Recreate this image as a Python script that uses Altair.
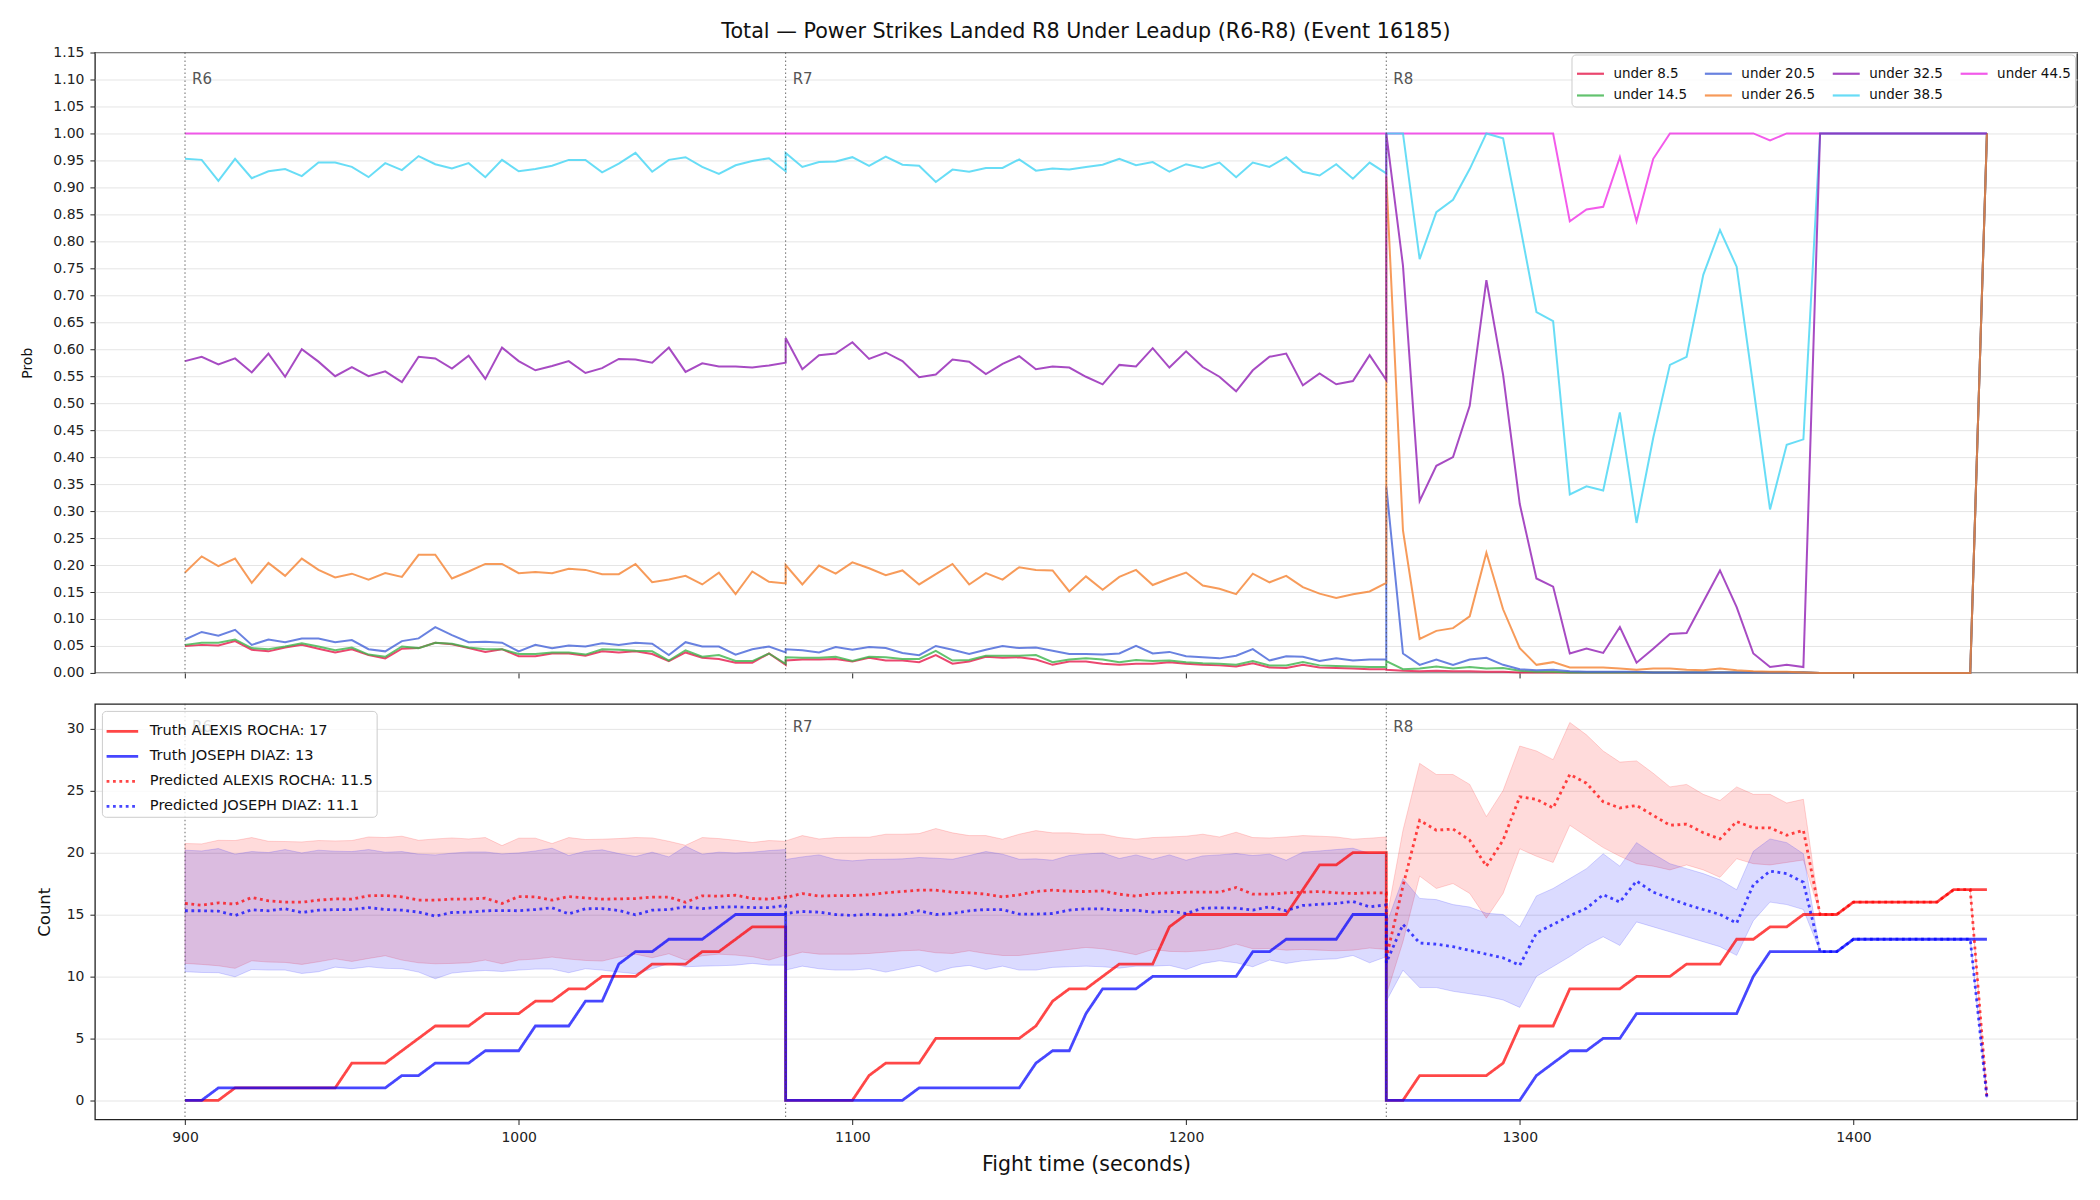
import altair as alt
import pandas as pd

FONT = "DejaVu Sans"

# ---------------------------------------------------------------------------
# Sample times (s): three rounds sampled every 5 s; a boundary second belongs
# to both the round that ends and the round that starts there.
R6_T = list(range(900, 1081, 5))
R7_T = list(range(1080, 1261, 5))
R8_T = list(range(1260, 1441, 5))
ALL_T = R6_T + R7_T + R8_T

ROUND_T = [900, 1080, 1260]
ROUND_LABELS = ["R6", "R7", "R8"]

X_TICKS = [900, 1000, 1100, 1200, 1300, 1400]
PROB_TICKS = [0.00, 0.05, 0.10, 0.15, 0.20, 0.25, 0.30, 0.35, 0.40, 0.45, 0.50, 0.55,
              0.60, 0.65, 0.70, 0.75, 0.80, 0.85, 0.90, 0.95, 1.00, 1.05, 1.10, 1.15]
COUNT_TICKS = [0, 5, 10, 15, 20, 25, 30]

# ---------------------------------------------------------------------------
# P(total power strikes landed in R8 < line)
U85_R6 = [0.050, 0.052, 0.051, 0.059, 0.043, 0.040, 0.047, 0.052, 0.045, 0.038, 0.044, 0.033, 0.027,
          0.045, 0.046, 0.056, 0.053, 0.046, 0.039, 0.044, 0.031, 0.031, 0.036, 0.036, 0.032, 0.040,
          0.038, 0.040, 0.035, 0.022, 0.038, 0.028, 0.026, 0.019, 0.019, 0.036, 0.015]
U85_R7 = [0.023, 0.025, 0.025, 0.026, 0.021, 0.028, 0.023, 0.023, 0.020, 0.033, 0.017, 0.021, 0.030,
          0.028, 0.029, 0.025, 0.015, 0.021, 0.021, 0.017, 0.015, 0.017, 0.017, 0.020, 0.017, 0.015,
          0.014, 0.012, 0.018, 0.010, 0.009, 0.015, 0.010, 0.009, 0.008, 0.007, 0.007]
U85_R8 = [0.006, 0.004, 0.003, 0.004, 0.003, 0.003, 0.002, 0.002, 0.001, 0.001, 0.001, 0.001, 0.001,
          0.001, 0.001, 0.001, 0.001, 0.001, 0.001, 0.001, 0.001, 0.001, 0.001, 0.001, 0.001, 0.001,
          0.0, 0.0, 0.0, 0.0, 0.0, 0.0, 0.0, 0.0, 0.0, 0.0, 1.0]

U145_R6 = [0.052, 0.056, 0.056, 0.062, 0.046, 0.044, 0.049, 0.055, 0.049, 0.042, 0.047, 0.034, 0.030,
           0.049, 0.046, 0.056, 0.054, 0.047, 0.044, 0.044, 0.035, 0.035, 0.038, 0.038, 0.034, 0.044,
           0.043, 0.041, 0.040, 0.023, 0.042, 0.030, 0.033, 0.022, 0.022, 0.036, 0.017]
U145_R7 = [0.029, 0.028, 0.028, 0.030, 0.022, 0.030, 0.029, 0.026, 0.026, 0.041, 0.023, 0.024, 0.032,
           0.032, 0.032, 0.033, 0.020, 0.025, 0.027, 0.025, 0.020, 0.024, 0.022, 0.023, 0.020, 0.018,
           0.017, 0.015, 0.022, 0.014, 0.014, 0.020, 0.014, 0.013, 0.012, 0.011, 0.011]
U145_R8 = [0.022, 0.007, 0.008, 0.012, 0.008, 0.011, 0.008, 0.009, 0.004, 0.002, 0.002, 0.001, 0.001,
           0.001, 0.001, 0.001, 0.001, 0.001, 0.001, 0.001, 0.001, 0.001, 0.001, 0.001, 0.001, 0.001,
           0.0, 0.0, 0.0, 0.0, 0.0, 0.0, 0.0, 0.0, 0.0, 0.0, 1.0]

U205_R6 = [0.062, 0.076, 0.069, 0.080, 0.052, 0.062, 0.057, 0.064, 0.064, 0.057, 0.061, 0.044, 0.040,
           0.059, 0.064, 0.085, 0.070, 0.057, 0.058, 0.056, 0.040, 0.052, 0.046, 0.051, 0.049, 0.055,
           0.052, 0.056, 0.054, 0.033, 0.057, 0.049, 0.049, 0.034, 0.044, 0.049, 0.038]
U205_R7 = [0.044, 0.042, 0.038, 0.048, 0.043, 0.048, 0.046, 0.037, 0.033, 0.050, 0.043, 0.035, 0.043,
           0.050, 0.046, 0.047, 0.041, 0.035, 0.035, 0.034, 0.036, 0.050, 0.036, 0.039, 0.031, 0.029,
           0.027, 0.032, 0.044, 0.023, 0.031, 0.030, 0.022, 0.027, 0.023, 0.025, 0.025]
U205_R8 = [0.346, 0.036, 0.015, 0.025, 0.015, 0.025, 0.028, 0.015, 0.007, 0.005, 0.006, 0.003, 0.002,
           0.002, 0.002, 0.002, 0.001, 0.001, 0.001, 0.001, 0.001, 0.001, 0.001, 0.001, 0.001, 0.001,
           0.0, 0.0, 0.0, 0.0, 0.0, 0.0, 0.0, 0.0, 0.0, 0.0, 1.0]

U265_R6 = [0.186, 0.216, 0.198, 0.212, 0.167, 0.204, 0.180, 0.212, 0.191, 0.177, 0.184, 0.173, 0.185,
           0.178, 0.219, 0.219, 0.175, 0.188, 0.202, 0.202, 0.185, 0.187, 0.185, 0.193, 0.191, 0.183,
           0.183, 0.202, 0.168, 0.173, 0.180, 0.164, 0.186, 0.146, 0.188, 0.169, 0.166]
U265_R7 = [0.200, 0.164, 0.199, 0.184, 0.205, 0.194, 0.181, 0.190, 0.164, 0.183, 0.202, 0.164, 0.185,
           0.173, 0.196, 0.191, 0.190, 0.151, 0.179, 0.154, 0.178, 0.191, 0.163, 0.175, 0.186, 0.162,
           0.156, 0.146, 0.184, 0.168, 0.180, 0.159, 0.147, 0.139, 0.146, 0.151, 0.167]
U265_R8 = [0.920, 0.264, 0.063, 0.078, 0.083, 0.105, 0.223, 0.118, 0.046, 0.015, 0.020, 0.010, 0.010,
           0.010, 0.008, 0.006, 0.008, 0.008, 0.006, 0.005, 0.008, 0.005, 0.003, 0.002, 0.002, 0.001,
           0.0, 0.0, 0.0, 0.0, 0.0, 0.0, 0.0, 0.0, 0.0, 0.0, 1.0]

U325_R6 = [0.578, 0.586, 0.572, 0.583, 0.557, 0.592, 0.549, 0.600, 0.577, 0.550, 0.567, 0.550, 0.559,
           0.539, 0.586, 0.583, 0.564, 0.588, 0.545, 0.603, 0.578, 0.561, 0.569, 0.578, 0.556, 0.565,
           0.582, 0.581, 0.575, 0.603, 0.558, 0.574, 0.568, 0.568, 0.566, 0.570, 0.575]
U325_R7 = [0.621, 0.563, 0.589, 0.592, 0.613, 0.582, 0.594, 0.578, 0.548, 0.553, 0.581, 0.577, 0.554,
           0.573, 0.587, 0.563, 0.568, 0.566, 0.549, 0.535, 0.571, 0.568, 0.602, 0.566, 0.596, 0.567,
           0.549, 0.522, 0.561, 0.586, 0.592, 0.533, 0.555, 0.535, 0.541, 0.589, 0.543]
U325_R8 = [1.000, 0.755, 0.319, 0.384, 0.400, 0.495, 0.728, 0.553, 0.313, 0.175, 0.160, 0.036, 0.045,
           0.037, 0.085, 0.019, 0.045, 0.072, 0.074, 0.132, 0.190, 0.122, 0.036, 0.011, 0.015, 0.011,
           1.0, 1.0, 1.0, 1.0, 1.0, 1.0, 1.0, 1.0, 1.0, 1.0, 1.0]

U385_R6 = [0.953, 0.951, 0.912, 0.953, 0.917, 0.930, 0.934, 0.921, 0.946, 0.946, 0.938, 0.919, 0.945,
           0.932, 0.958, 0.943, 0.935, 0.945, 0.919, 0.951, 0.930, 0.934, 0.940, 0.951, 0.951, 0.928,
           0.944, 0.964, 0.929, 0.951, 0.956, 0.938, 0.925, 0.941, 0.949, 0.954, 0.930]
U385_R7 = [0.964, 0.938, 0.947, 0.948, 0.956, 0.940, 0.957, 0.942, 0.940, 0.910, 0.933, 0.929, 0.936,
           0.936, 0.952, 0.931, 0.935, 0.933, 0.938, 0.942, 0.953, 0.941, 0.947, 0.929, 0.943, 0.936,
           0.946, 0.919, 0.946, 0.938, 0.956, 0.929, 0.922, 0.943, 0.916, 0.946, 0.926]
U385_R8 = [1.000, 1.000, 0.767, 0.854, 0.877, 0.934, 1.000, 0.991, 0.832, 0.669, 0.652, 0.331, 0.346,
           0.338, 0.483, 0.278, 0.436, 0.571, 0.586, 0.738, 0.821, 0.753, 0.530, 0.303, 0.423, 0.433,
           1.0, 1.0, 1.0, 1.0, 1.0, 1.0, 1.0, 1.0, 1.0, 1.0, 1.0]

U445_R6 = [1.0] * 37
U445_R7 = [1.0] * 37
U445_R8 = [1.000, 1.000, 1.000, 1.000, 1.000, 1.000, 1.000, 1.000, 1.000, 1.000, 1.000, 0.837, 0.859,
           0.864, 0.956, 0.837, 0.953, 1.000, 1.000, 1.000, 1.000, 1.000, 1.000, 0.987, 1.000, 1.000,
           1.0, 1.0, 1.0, 1.0, 1.0, 1.0, 1.0, 1.0, 1.0, 1.0, 1.0]

# ---------------------------------------------------------------------------
# Cumulative power strikes: truth and model prediction with its interval
TRUTH_A_R6 = [0, 0, 0, 1, 1, 1, 1, 1, 1, 1, 3, 3, 3, 4, 5, 6, 6, 6, 7, 7, 7, 8, 8, 9, 9, 10, 10, 10,
              11, 11, 11, 12, 12, 13, 14, 14, 14]
TRUTH_A_R7 = [0, 0, 0, 0, 0, 2, 3, 3, 3, 5, 5, 5, 5, 5, 5, 6, 8, 9, 9, 10, 11, 11, 11, 14, 15, 15, 15,
              15, 15, 15, 15, 17, 19, 19, 20, 20, 20]
TRUTH_A_R8 = [0, 0, 2, 2, 2, 2, 2, 3, 6, 6, 6, 9, 9, 9, 9, 10, 10, 10, 11, 11, 11, 13, 13, 14, 14, 15,
              15, 15, 16, 16, 16, 16, 16, 16, 17, 17, 17]

TRUTH_J_R6 = [0, 0, 1, 1, 1, 1, 1, 1, 1, 1, 1, 1, 1, 2, 2, 3, 3, 3, 4, 4, 4, 6, 6, 6, 8, 8, 11, 12, 12,
              13, 13, 13, 14, 15, 15, 15, 15]
TRUTH_J_R7 = [0, 0, 0, 0, 0, 0, 0, 0, 1, 1, 1, 1, 1, 1, 1, 3, 4, 4, 7, 9, 9, 9, 10, 10, 10, 10, 10, 10,
              12, 12, 13, 13, 13, 13, 15, 15, 15]
TRUTH_J_R8 = [0, 0, 0, 0, 0, 0, 0, 0, 0, 2, 3, 4, 4, 5, 5, 7, 7, 7, 7, 7, 7, 7, 10, 12, 12, 12, 12, 12,
              13, 13, 13, 13, 13, 13, 13, 13, 13]

PRED_A_R6 = [15.89, 15.75, 15.94, 15.83, 16.37, 16.10, 15.99, 15.99, 16.16, 16.26, 16.24, 16.51, 16.53,
             16.42, 16.16, 16.16, 16.24, 16.24, 16.32, 15.89, 16.45, 16.42, 16.16, 16.45, 16.34, 16.24,
             16.26, 16.29, 16.40, 16.40, 15.99, 16.51, 16.48, 16.56, 16.29, 16.24, 16.42]
PRED_A_R7 = [16.37, 16.69, 16.48, 16.53, 16.53, 16.59, 16.75, 16.85, 16.96, 16.96, 16.80, 16.75, 16.64,
             16.42, 16.59, 16.85, 16.96, 16.88, 16.85, 16.91, 16.64, 16.48, 16.69, 16.75, 16.80, 16.80,
             16.80, 17.18, 16.64, 16.64, 16.75, 16.80, 16.85, 16.75, 16.69, 16.75, 16.75]
PRED_A_R8 = [11.5, 17.3, 22.6, 21.8, 21.9, 21.0, 18.9, 21.0, 24.5, 24.3, 23.6, 26.3, 25.6, 24.1, 23.6,
             23.8, 23.0, 22.2, 22.3, 21.6, 21.1, 22.5, 22.0, 22.0, 21.4, 21.8, 15, 15, 16, 16, 16, 16,
             16, 16, 17, 17, 0.25]

PRED_J_R6 = [15.30, 15.30, 15.27, 14.92, 15.38, 15.30, 15.46, 15.16, 15.35, 15.40, 15.40, 15.56, 15.40,
             15.35, 15.19, 14.87, 15.16, 15.19, 15.30, 15.32, 15.30, 15.40, 15.54, 15.05, 15.46, 15.48,
             15.32, 14.97, 15.35, 15.40, 15.62, 15.48, 15.59, 15.62, 15.56, 15.56, 15.73]
PRED_J_R7 = [15.08, 15.24, 15.19, 15.00, 14.92, 15.03, 14.95, 15.00, 15.30, 15.00, 15.08, 15.30, 15.40,
             15.40, 15.03, 15.03, 15.08, 15.35, 15.46, 15.46, 15.32, 15.35, 15.19, 15.27, 15.08, 15.51,
             15.54, 15.51, 15.35, 15.62, 15.30, 15.73, 15.83, 15.89, 16.05, 15.62, 15.78]
PRED_J_R8 = [11.1, 14.2, 12.7, 12.6, 12.4, 12.1, 11.8, 11.5, 10.9, 13.5, 14.2, 14.9, 15.5, 16.6, 16.0,
             17.7, 16.8, 16.3, 15.8, 15.4, 15.0, 14.3, 17.4, 18.5, 18.3, 17.6, 12, 12, 13, 13, 13, 13,
             13, 13, 13, 13, 0.2]

HI_A_R6 = [20.73, 20.70, 20.99, 20.97, 21.21, 20.91, 20.89, 20.86, 20.97, 20.94, 20.97, 21.26, 21.21,
           21.32, 20.99, 21.10, 21.18, 21.10, 21.21, 20.56, 21.16, 21.16, 20.73, 21.21, 21.05, 21.08,
           21.13, 21.21, 21.18, 20.91, 20.59, 21.21, 21.13, 20.99, 20.81, 20.97, 20.91]
HI_A_R7 = [20.94, 21.37, 21.10, 21.21, 21.24, 21.24, 21.48, 21.48, 21.53, 21.94, 21.59, 21.37, 21.37,
           21.08, 21.48, 21.77, 21.59, 21.59, 21.48, 21.48, 21.21, 21.08, 21.21, 21.26, 21.32, 21.48,
           21.26, 21.64, 21.21, 21.18, 21.26, 21.37, 21.32, 21.26, 21.08, 21.16, 21.26]
HI_A_R8 = [14.5, 21.8, 27.2, 26.3, 26.3, 25.5, 22.9, 25.0, 28.6, 28.2, 27.5, 30.5, 29.5, 28.2, 27.3,
           27.4, 26.4, 25.3, 25.5, 24.7, 24.2, 25.3, 24.7, 24.7, 24.0, 24.3, 15, 15, 16, 16, 16, 16,
           16, 16, 17, 17, 0.25]
LO_A_R6 = [11.05, 10.97, 10.86, 10.65, 11.26, 11.16, 11.13, 10.97, 11.18, 11.42, 11.21, 11.45, 11.67,
           11.32, 11.10, 11.02, 11.05, 11.10, 11.32, 11.02, 11.32, 11.40, 11.56, 11.40, 11.29, 11.24,
           11.56, 11.80, 11.51, 11.83, 11.32, 11.67, 11.80, 11.72, 11.59, 11.32, 11.72]
LO_A_R7 = [11.59, 11.96, 11.80, 11.80, 11.80, 11.85, 11.96, 12.07, 12.12, 11.91, 11.85, 12.07, 11.85,
           11.69, 11.69, 11.85, 12.02, 12.18, 12.34, 12.23, 12.02, 11.75, 12.18, 12.02, 11.99, 12.07,
           12.23, 12.61, 12.23, 12.26, 12.12, 12.18, 12.12, 12.07, 12.12, 12.29, 12.18]
LO_A_R8 = [8.5, 12.8, 18.1, 17.1, 17.5, 16.7, 14.7, 16.7, 20.3, 19.7, 19.2, 22.2, 21.3, 20.4, 19.7,
           19.1, 18.9, 18.6, 19.0, 18.6, 18.0, 19.5, 19.1, 19.0, 19.2, 19.4, 15, 15, 16, 16, 16, 16,
           16, 16, 17, 17, 0.25]

HI_J_R6 = [20.19, 20.13, 20.32, 19.87, 20.08, 20.00, 20.24, 19.97, 20.19, 20.11, 20.08, 20.24, 20.03,
           20.08, 19.87, 19.81, 19.95, 20.05, 20.05, 19.89, 19.97, 20.13, 20.35, 19.76, 20.11, 20.22,
           19.92, 19.68, 20.03, 19.65, 20.51, 19.87, 20.03, 19.97, 20.03, 20.16, 20.24]
HI_J_R7 = [19.44, 19.65, 19.81, 19.44, 19.33, 19.44, 19.46, 19.49, 19.60, 19.54, 19.46, 19.76, 20.08,
           19.87, 19.46, 19.49, 19.38, 19.76, 19.89, 19.97, 19.52, 19.81, 19.46, 19.81, 19.38, 19.73,
           19.81, 19.92, 19.76, 19.87, 19.38, 20.03, 20.13, 20.24, 20.35, 19.92, 19.97]
HI_J_R8 = [14.2, 17.9, 16.3, 16.2, 15.8, 15.6, 15.1, 15.0, 14.0, 16.5, 17.1, 17.9, 18.7, 19.9, 18.9,
           20.8, 19.9, 19.1, 18.7, 18.3, 17.8, 17.0, 20.1, 21.1, 20.8, 19.9, 12, 12, 13, 13, 13, 13,
           13, 13, 13, 13, 0.2]
LO_J_R6 = [10.38, 10.32, 10.30, 9.97, 10.56, 10.51, 10.51, 10.24, 10.38, 10.75, 10.62, 10.78, 10.65,
           10.62, 10.35, 9.81, 10.27, 10.40, 10.48, 10.40, 10.51, 10.59, 10.59, 10.30, 10.62, 10.51,
           10.35, 10.22, 10.62, 11.05, 10.78, 10.83, 10.86, 10.91, 11.05, 10.91, 10.91]
LO_J_R7 = [10.51, 10.83, 10.62, 10.51, 10.51, 10.62, 10.35, 10.62, 10.89, 10.35, 10.73, 10.89, 10.56,
           10.83, 10.51, 10.51, 10.73, 10.78, 10.83, 10.78, 10.67, 10.83, 10.83, 10.89, 10.56, 11.05,
           11.26, 11.10, 10.78, 11.32, 11.05, 11.26, 11.37, 11.42, 11.69, 11.10, 11.59]
LO_J_R8 = [8.0, 10.5, 9.1, 9.1, 8.8, 8.6, 8.4, 8.1, 7.5, 10.0, 10.8, 11.6, 12.5, 13.2, 12.5, 14.4,
           14.0, 13.6, 13.2, 12.8, 12.4, 11.7, 14.5, 16.0, 15.8, 15.4, 12, 12, 13, 13, 13, 13, 13,
           13, 13, 13, 0.2]

# ---------------------------------------------------------------------------
# Long-form tables
PROB_SERIES = [
    ("under 8.5", U85_R6 + U85_R7 + U85_R8, "#e6194b"),
    ("under 14.5", U145_R6 + U145_R7 + U145_R8, "#3cb44b"),
    ("under 20.5", U205_R6 + U205_R7 + U205_R8, "#4363d8"),
    ("under 26.5", U265_R6 + U265_R7 + U265_R8, "#f58231"),
    ("under 32.5", U325_R6 + U325_R7 + U325_R8, "#911eb4"),
    ("under 38.5", U385_R6 + U385_R7 + U385_R8, "#42d4f4"),
    ("under 44.5", U445_R6 + U445_R7 + U445_R8, "#f032e6"),
]
for _name, _vals, _c in PROB_SERIES:
    assert len(_vals) == len(ALL_T), _name

prob_rows = []
for name, vals, _c in PROB_SERIES:
    for i, (t, p) in enumerate(zip(ALL_T, vals)):
        prob_rows.append({"t": t, "p": p, "series": name, "idx": i})
prob_df = pd.DataFrame(prob_rows)

# the legend grid fills column by column (4 columns x 2 rows)
LEGEND_ORDER = [n for n, _v, _c in PROB_SERIES]
LEGEND_COLORS = [c for _n, _v, c in PROB_SERIES]
# stacking order of the probability lines (last one drawn on top)
DRAW_ORDER = ["under 44.5", "under 38.5", "under 8.5", "under 14.5", "under 20.5",
              "under 26.5", "under 32.5"]

TRUTH_A = TRUTH_A_R6 + TRUTH_A_R7 + TRUTH_A_R8
TRUTH_J = TRUTH_J_R6 + TRUTH_J_R7 + TRUTH_J_R8
PRED_A = PRED_A_R6 + PRED_A_R7 + PRED_A_R8
PRED_J = PRED_J_R6 + PRED_J_R7 + PRED_J_R8

LBL_TA = f"Truth ALEXIS ROCHA: {TRUTH_A_R8[-1]}"
LBL_TJ = f"Truth JOSEPH DIAZ: {TRUTH_J_R8[-1]}"
LBL_PA = f"Predicted ALEXIS ROCHA: {PRED_A_R8[0]}"
LBL_PJ = f"Predicted JOSEPH DIAZ: {PRED_J_R8[0]}"
COUNT_SERIES = [LBL_TA, LBL_TJ, LBL_PA, LBL_PJ]

count_rows = []
for name, vals in [(LBL_TA, TRUTH_A), (LBL_TJ, TRUTH_J), (LBL_PA, PRED_A), (LBL_PJ, PRED_J)]:
    assert len(vals) == len(ALL_T), name
    kind = "truth" if name.startswith("Truth") else "pred"
    for i, (t, v) in enumerate(zip(ALL_T, vals)):
        count_rows.append({"t": t, "v": v, "fighter_line": name, "kind": kind, "idx": i})
count_df = pd.DataFrame(count_rows)

band_rows = []
for fighter, lo, hi in [("ROCHA", LO_A_R6 + LO_A_R7 + LO_A_R8, HI_A_R6 + HI_A_R7 + HI_A_R8),
                        ("DIAZ", LO_J_R6 + LO_J_R7 + LO_J_R8, HI_J_R6 + HI_J_R7 + HI_J_R8)]:
    assert len(lo) == len(ALL_T) and len(hi) == len(ALL_T), fighter
    for t, a, b in zip(ALL_T, lo, hi):
        band_rows.append({"t": t, "v": a, "hi": b, "fighter": fighter})
band_df = pd.DataFrame(band_rows)

# round markers; the label height is given in each panel's own units
rounds_top = pd.DataFrame({"t": ROUND_T, "label": ROUND_LABELS, "p": [1.101] * 3})
rounds_bot = pd.DataFrame({"t": ROUND_T, "label": ROUND_LABELS, "v": [30.1] * 3})

# ---------------------------------------------------------------------------
PLOT_W = 1984
TOP_H = 621
BOT_H = 416

x_scale = alt.Scale(domain=[873, 1467], nice=False, zero=False)

x_top = alt.X("t:Q", scale=x_scale,
              axis=alt.Axis(values=X_TICKS, labels=False, title=None, grid=False, tickSize=5))
y_top = alt.Y("p:Q", scale=alt.Scale(domain=[0, 1.15], nice=False, zero=False),
              axis=alt.Axis(values=PROB_TICKS, format=".2f", title="Prob", titleX=-60,
                            titleY=TOP_H / 2, titleFontSize=14, tickSize=5, labelPadding=6,
                            labelOverlap=False, labelFlush=False, grid=True))

top_legend = alt.Legend(title=None, orient="top-right", offset=2, columns=4, columnPadding=13,
                        rowPadding=-5, symbolType="stroke", symbolSize=729,
                        symbolStrokeWidth=2.2, labelFontSize=13.5, labelOffset=8, padding=4,
                        labelColor="#111", fillColor="rgba(255,255,255,0.85)",
                        strokeColor="#cccccc", cornerRadius=4)
prob_color = alt.Color("series:N", scale=alt.Scale(domain=LEGEND_ORDER, range=LEGEND_COLORS),
                       legend=top_legend)

prob_layers = [
    alt.Chart(prob_df).transform_filter(alt.datum.series == name)
    .mark_line(strokeWidth=2, opacity=0.8)
    .encode(x=x_top, y=y_top, color=prob_color, order="idx:Q")
    for name in DRAW_ORDER
]

vline_top = alt.Chart(rounds_top).mark_rule(
    color="#444444", strokeDash=[1.5, 2.5], strokeWidth=1, opacity=0.8
).encode(x=x_top)
label_top = alt.Chart(rounds_top).mark_text(
    align="left", baseline="middle", dx=7, fontSize=15, color="#555555", font=FONT
).encode(x=x_top, y=y_top, text="label:N")

top = alt.layer(*prob_layers, vline_top, label_top).properties(
    width=PLOT_W, height=TOP_H,
    title=alt.TitleParams("Total \u2014 Power Strikes Landed R8 Under Leadup (R6-R8) (Event 16185)",
                          anchor="middle", offset=3, frame="group"),
)

# ---------------------------------------------------------------------------
x_bot = alt.X("t:Q", scale=x_scale,
              axis=alt.Axis(values=X_TICKS, format="d", title="Fight time (seconds)",
                            titleFontSize=20.5, grid=False, tickSize=5, labelPadding=6,
                            titlePadding=10))
y_bot = alt.Y("v:Q", scale=alt.Scale(domain=[-1.55, 32.0], nice=False, zero=False),
              axis=alt.Axis(values=COUNT_TICKS, title="Count", titleX=-42, titleY=BOT_H / 2,
                            titleFontSize=16.5, tickSize=5, labelPadding=6, labelOverlap=False,
                            grid=True))

band_layers = [
    alt.Chart(band_df).transform_filter(alt.datum.fighter == f)
    .mark_area(fill=c, fillOpacity=0.14, stroke=c, strokeOpacity=0.16, strokeWidth=1)
    .encode(x=x_bot, y=y_bot, y2="hi:Q")
    for f, c in [("ROCHA", "#ff0000"), ("DIAZ", "#0000ff")]
]

bot_legend = alt.Legend(title=None, orient="top-left", offset=7, symbolType="stroke",
                        symbolSize=1000, labelFontSize=14.6, labelOffset=10, rowPadding=-7,
                        padding=3, labelLimit=400, labelColor="#111",
                        fillColor="rgba(255,255,255,0.8)", strokeColor="#cccccc",
                        cornerRadius=4)
enc_series = dict(
    color=alt.Color("fighter_line:N", scale=alt.Scale(domain=COUNT_SERIES,
                                                      range=["#ff0000", "#0000ff", "#ff0000", "#0000ff"]),
                    legend=bot_legend),
    strokeDash=alt.StrokeDash("fighter_line:N", scale=alt.Scale(domain=COUNT_SERIES,
                                                                range=[[1, 0], [1, 0], [2.8, 3.6], [2.8, 3.6]]),
                              legend=bot_legend),
    opacity=alt.Opacity("fighter_line:N", scale=alt.Scale(domain=COUNT_SERIES,
                                                          range=[0.72, 0.72, 0.58, 0.58]),
                        legend=bot_legend),
    strokeWidth=alt.StrokeWidth("fighter_line:N", scale=alt.Scale(domain=COUNT_SERIES,
                                                                  range=[2.8, 2.8, 2.5, 2.5]),
                                legend=bot_legend),
)

truth_layer = alt.Chart(count_df).transform_filter(alt.datum.kind == "truth").mark_line().encode(
    x=x_bot, y=y_bot, order="idx:Q", **enc_series)
pred_layer = alt.Chart(count_df).transform_filter(alt.datum.kind == "pred").mark_line(
    strokeCap="butt").encode(x=x_bot, y=y_bot, order="idx:Q", **enc_series)

vline_bot = alt.Chart(rounds_bot).mark_rule(
    color="#444444", strokeDash=[1.5, 2.5], strokeWidth=1, opacity=0.8
).encode(x=x_bot)
label_bot = alt.Chart(rounds_bot).mark_text(
    align="left", baseline="middle", dx=7, fontSize=15, color="#555555", font=FONT
).encode(x=x_bot, y=y_bot, text="label:N")

bottom = alt.layer(*band_layers, truth_layer, pred_layer, vline_bot, label_bot).properties(
    width=PLOT_W, height=BOT_H)

# ---------------------------------------------------------------------------
chart = (
    alt.vconcat(top, bottom, spacing=31, bounds="flush")
    .resolve_scale(color="independent", strokeDash="independent", opacity="independent",
                   strokeWidth="independent", y="independent")
    .resolve_legend(color="independent", strokeDash="independent", opacity="independent",
                    strokeWidth="independent")
    .properties(padding={"left": 20, "top": 19, "right": 22, "bottom": 20}, background="white")
    .configure_view(stroke="#222222", strokeWidth=1.3)
    .configure_axis(labelFont=FONT, titleFont=FONT, labelFontSize=14, labelColor="#222222",
                    tickColor="#222222", tickWidth=1, domain=False, gridColor="#e5e5e5",
                    gridWidth=1, titleFontWeight="normal", titleColor="#111111")
    .configure_legend(labelFont=FONT)
    .configure_title(font=FONT, fontSize=20.7, fontWeight="normal", color="#111111")
)

chart.save("out.html", embed_options={"renderer": "svg", "actions": False})
